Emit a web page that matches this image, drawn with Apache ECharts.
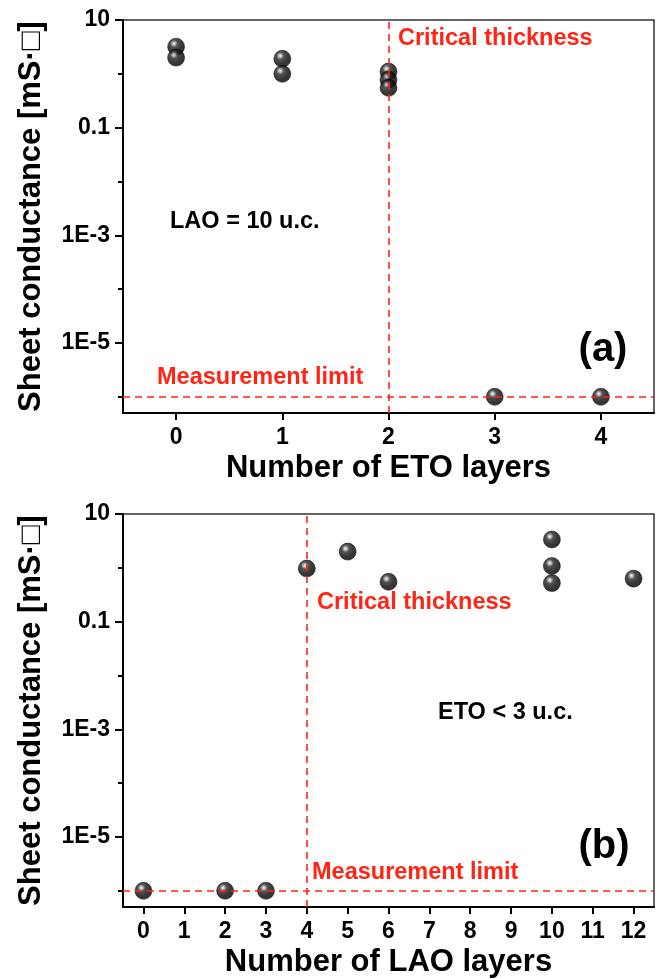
<!DOCTYPE html>
<html><head><meta charset="utf-8">
<script src="https://cdn.jsdelivr.net/npm/echarts@6/dist/echarts.min.js"></script>
<style>html,body{margin:0;padding:0;background:#fff}#c{width:660px;height:979px}</style>
</head><body><div id="c"></div>
<script>
// ---- data ----
const etoLayers = [0, 0, 1, 1, 2, 2, 2, 3, 4];
const etoConductance = [3.2, 2.0, 1.9, 1.0, 1.1, 0.78, 0.55, 1e-6, 1e-6];
const laoLayers = [0, 2, 3, 4, 5, 6, 10, 10, 10, 12];
const laoConductance = [1e-6, 1e-6, 1e-6, 0.97, 2.0, 0.55, 3.36, 1.08, 0.52, 0.63];
const etoTicks = [0, 1, 2, 3, 4];
const laoTicks = [0, 1, 2, 3, 4, 5, 6, 7, 8, 9, 10, 11, 12];
const etoRange = [-0.5, 4.5];
const laoRange = [-0.5, 12.5];
const yMajorTicks = [1e-5, 1e-3, 0.1, 10];
const yMajorLabels = ['1E-5', '1E-3', '0.1', '10'];
const yMinorTicks = [1e-6, 1e-4, 0.01, 1];
const yRange = [5e-7, 10];
const measurementLimit = 1e-6;
const criticalEto = 2;
const criticalLao = 4;

// ---- build ----
const L = v => Math.log10(v);
const RED = '#ff2414';
const FONT = '"Liberation Sans", Arial, sans-serif';
const labelMap = {};
yMajorTicks.forEach((v, i) => { labelMap[Math.round(L(v))] = yMajorLabels[i]; });

const ball = {
  type: 'radial', x: 0.38, y: 0.33, r: 0.66,
  colorStops: [
    { offset: 0, color: '#ffffff' },
    { offset: 0.12, color: '#b0b0b0' },
    { offset: 0.32, color: '#262626' },
    { offset: 0.7, color: '#050505' },
    { offset: 1, color: '#000' }
  ]
};

function xAxis(gridIndex, range, ticks, name) {
  return {
    type: 'value', gridIndex, min: range[0], max: range[1],
    name, nameLocation: 'middle', nameGap: 40,
    nameTextStyle: { fontFamily: FONT, fontWeight: 'bold', fontSize: 31, color: '#000' },
    axisLine: { show: true, onZero: false, lineStyle: { color: '#000', width: 2 } },
    axisTick: { show: true, customValues: ticks, length: 7, lineStyle: { color: '#000', width: 2 } },
    axisLabel: { customValues: ticks, margin: 13, fontFamily: FONT, fontWeight: 'bold', fontSize: 23, color: '#000' },
    splitLine: { show: false }
  };
}
function yAxisMajor(gridIndex) {
  return {
    type: 'value', gridIndex, min: L(yRange[0]), max: L(yRange[1]), position: 'left',
    name: 'Sheet conductance [mS·□]', nameLocation: 'middle', nameGap: 76,
    nameTextStyle: { fontFamily: FONT, fontWeight: 'bold', fontSize: 31, color: '#000' },
    axisLine: { show: true, onZero: false, lineStyle: { color: '#000', width: 2 } },
    axisTick: { show: true, customValues: yMajorTicks.map(L), length: 8, lineStyle: { color: '#000', width: 2 } },
    axisLabel: {
      customValues: yMajorTicks.map(L), margin: 13, fontFamily: FONT, fontWeight: 'bold', fontSize: 23, color: '#000',
      formatter: v => labelMap[Math.round(v)] || ''
    },
    splitLine: { show: false }
  };
}
function yAxisMinor(gridIndex) {
  return {
    type: 'value', gridIndex, min: L(yRange[0]), max: L(yRange[1]), position: 'left',
    axisLine: { show: false, onZero: false },
    axisTick: { show: true, customValues: yMinorTicks.map(L), length: 5, lineStyle: { color: '#000', width: 2 } },
    axisLabel: { show: false },
    splitLine: { show: false }
  };
}
function refLines(xv) {
  return {
    silent: true, symbol: 'none', z: 10,
    label: { show: false },
    lineStyle: { color: RED, width: 1.6, type: [7, 5] },
    data: [{ xAxis: xv }, { yAxis: L(measurementLimit) }]
  };
}

const textEl = (text, x, y, color, size, align) => ({
  type: 'text', z: 100,
  style: {
    text, x, y, fill: color, font: 'bold ' + size + 'px ' + FONT,
    textAlign: align || 'left', textVerticalAlign: 'middle',
    align: align || 'left', verticalAlign: 'middle'
  }
});

const option = {
  animation: false,
  backgroundColor: '#fff',
  grid: [
    { left: 123, right: 6, top: 20, height: 393, show: true, borderColor: '#333', borderWidth: 1.5, backgroundColor: 'transparent' },
    { left: 123, right: 6, top: 514, height: 393, show: true, borderColor: '#333', borderWidth: 1.5, backgroundColor: 'transparent' }
  ],
  xAxis: [
    xAxis(0, etoRange, etoTicks, 'Number of ETO layers'),
    xAxis(1, laoRange, laoTicks, 'Number of LAO layers')
  ],
  yAxis: [yAxisMajor(0), yAxisMinor(0), yAxisMajor(1), yAxisMinor(1)],
  series: [
    {
      type: 'scatter', xAxisIndex: 0, yAxisIndex: 0, symbolSize: 17,
      itemStyle: { color: ball, borderColor: '#000', borderWidth: 0.6 },
      data: etoLayers.map((x, i) => [x, L(etoConductance[i])]),
      markLine: refLines(criticalEto)
    },
    {
      type: 'scatter', xAxisIndex: 1, yAxisIndex: 2, symbolSize: 17,
      itemStyle: { color: ball, borderColor: '#000', borderWidth: 0.6 },
      data: laoLayers.map((x, i) => [x, L(laoConductance[i])]),
      markLine: refLines(criticalLao)
    }
  ],
  graphic: [
    textEl('Critical thickness', 398, 39, RED, 23.5),
    textEl('LAO = 10 u.c.', 170, 222, '#000', 23.5),
    textEl('Measurement limit', 157, 378, RED, 23.5),
    textEl('(a)', 603, 350, '#000', 40, 'center'),
    textEl('Critical thickness', 317, 603, RED, 23.5),
    textEl('ETO < 3 u.c.', 438, 713, '#000', 23.5),
    textEl('Measurement limit', 312, 873, RED, 23.5),
    textEl('(b)', 604, 847, '#000', 40, 'center')
  ]
};

const chart = echarts.init(document.getElementById('c'), null, { renderer: 'canvas' });
chart.setOption(option);
</script>
</body></html>
